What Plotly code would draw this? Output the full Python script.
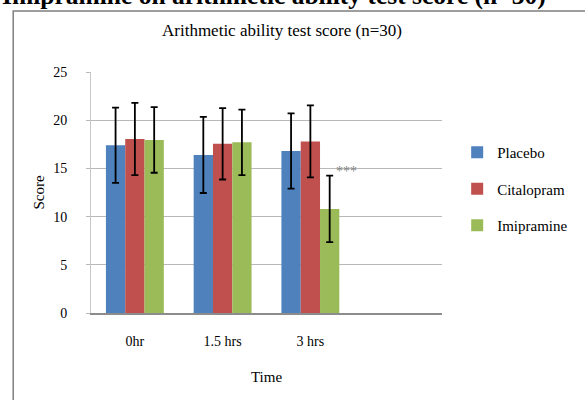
import plotly.graph_objects as go

categories = ["0hr", "1.5 hrs", "3 hrs"]
placebo = [17.4, 16.4, 16.8]
placebo_err = [3.9, 3.95, 3.9]
citalopram = [18.05, 17.55, 17.8]
citalopram_err = [3.75, 3.7, 3.73]
imipramine = [17.95, 17.7, 10.8]
imipramine_err = [3.4, 3.4, 3.45]
series_names = ["Placebo", "Citalopram", "Imipramine"]
colors = ["#4F81BD", "#C0504D", "#9BBB59"]

FONT = "Times New Roman, Liberation Serif, serif"

fig = go.Figure()
for name, vals, errs, col in zip(series_names,
                                 [placebo, citalopram, imipramine],
                                 [placebo_err, citalopram_err, imipramine_err],
                                 colors):
    fig.add_trace(go.Bar(
        x=categories, y=vals, name=name, legendgroup=name,
        marker=dict(color=col, line=dict(width=0)),
        error_y=dict(type="data", array=errs, visible=True,
                     color="black", thickness=1.8, width=3.5),
    ))

# plot area in px: x 91..461, y 72..313
L, R, T, B = 91, 461, 72, 313
W, H = R - L, B - T
def px(x):
    return (x - L) / W
def py(y):
    return (B - y) / H

fig.update_layout(
    width=585, height=400,
    margin=dict(l=L, r=585 - R, t=T, b=400 - B),
    paper_bgcolor="white", plot_bgcolor="white",
    barmode="group", bargap=0.34, bargroupgap=0,
    font=dict(family=FONT, color="black", size=14),
    showlegend=True,
    legend=dict(x=px(477), y=py(136), xanchor="left", yanchor="top",
                font=dict(family=FONT, size=15, color="black"),
                tracegroupgap=14, itemwidth=30, bgcolor="rgba(0,0,0,0)"),
    xaxis=dict(type="category", range=[-0.5, 3.5],
               showgrid=False, showline=True, linecolor="#8c8c8c", linewidth=1.5,
               ticks="", ticklabelstandoff=14,
               tickfont=dict(family=FONT, size=14, color="black"),
               title=dict(text="Time", font=dict(family=FONT, size=15, color="black"), standoff=24)),
    yaxis=dict(range=[0, 25], dtick=5, tick0=0,
               showgrid=True, gridcolor="#b8b8b8", gridwidth=1,
               showline=True, linecolor="#c8c8c8", linewidth=1,
               ticks="outside", ticklen=4, tickcolor="#b8b8b8",
               ticklabelstandoff=16, zeroline=False,
               tickfont=dict(family=FONT, size=14, color="black"),
               title=dict(text="Score", font=dict(family=FONT, size=15, color="black"), standoff=4)),
)

fig.add_annotation(text="***", xref="x", yref="y", x=categories[2], y=imipramine[2] + imipramine_err[2] + 0.4,
                   xshift=36, showarrow=False, yanchor="middle",
                   font=dict(family=FONT, size=14, color="#808080"))

fig.add_annotation(text="Arithmetic ability test score (n=30)", xref="paper", yref="paper",
                   x=px(292), y=py(31), xanchor="center", yanchor="middle", showarrow=False,
                   font=dict(family=FONT, size=17, color="black"))

fig.add_annotation(text="<b>Imipramine on arithmetic ability test score (n=30)</b>", xref="paper", yref="paper",
                   x=px(-5), y=py(-4.5), xanchor="left", yanchor="middle", showarrow=False,
                   font=dict(family=FONT, size=25.5, color="black"))

fig.add_shape(type="rect", xref="paper", yref="paper",
              x0=px(9), x1=px(620), y0=py(440), y1=py(11),
              line=dict(color="#7f7f7f", width=1.5), fillcolor="rgba(0,0,0,0)", layer="below")

fig.write_html("out.html", config={"displayModeBar": False},
               post_script="document.body.style.margin='0';document.body.style.overflow='hidden';")
